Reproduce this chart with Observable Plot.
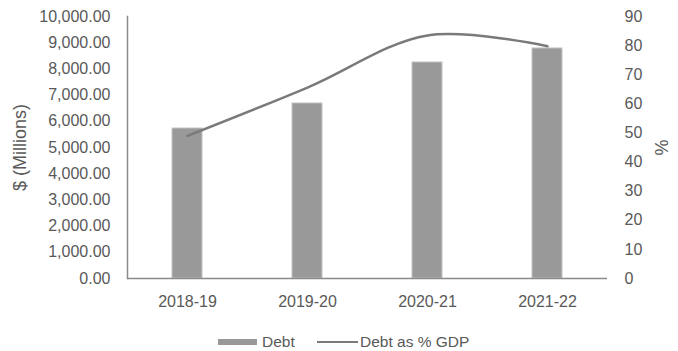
<!DOCTYPE html>
<html>
<head>
<meta charset="utf-8">
<script src="https://cdn.jsdelivr.net/npm/d3@7"></script>
<script src="https://cdn.jsdelivr.net/npm/@observablehq/plot@0.6"></script>
<style>
  body { margin: 0; background: #fff; font-family: "Liberation Sans", Arial, sans-serif; }
  #wrap { position: relative; width: 678px; height: 351px; }
  .legend { position: absolute; top: 328px; left: 0; width: 678px; height: 23px; color: #595959; font-size: 15.5px; }
  .legend span { position: absolute; }
</style>
</head>
<body>
<div id="wrap">
  <div id="chart"></div>
  <div class="legend">
    <span style="left:218px;top:11px;width:39px;height:6px;background:#999999"></span>
    <span style="left:262px;top:5px;">Debt</span>
    <span style="left:317px;top:13px;width:41px;height:2px;background:#7a7a7a"></span>
    <span style="left:360px;top:5px;">Debt as % GDP</span>
  </div>
</div>
<script>
const years = ["2018-19", "2019-20", "2020-21", "2021-22"];
const debt = [5725, 6680, 8245, 8780];
const debtPctGDP = [49, 65.6, 83.5, 79.8];
const leftTicks = [0, 1000, 2000, 3000, 4000, 5000, 6000, 7000, 8000, 9000, 10000];
const rightTicks = [0, 10, 20, 30, 40, 50, 60, 70, 80, 90];

const ratio = 10000 / 90;
const rows = years.map((y, i) => ({year: y, debt: debt[i], pct: debtPctGDP[i]}));

const chart = Plot.plot({
  width: 678,
  height: 318,
  marginTop: 16,
  marginBottom: 40,
  marginLeft: 127,
  marginRight: 71,
  style: {fontFamily: "'Liberation Sans', Arial, sans-serif", fontSize: "16px", color: "#595959"},
  x: {domain: years, padding: 0},
  y: {domain: [0, 10000]},
  marks: [
    Plot.barY(rows, {x: "year", y: "debt", fill: "#999999", stroke: "#c4c4c4", strokeWidth: 1, insetLeft: 45, insetRight: 45}),
    Plot.ruleY([0], {stroke: "#8a8a8a", strokeWidth: 1.5}),
    Plot.frame({anchor: "left", stroke: "#8a8a8a", strokeWidth: 1.5}),
    Plot.line(rows, {x: "year", y: d => d.pct * ratio, stroke: "#7a7a7a", strokeWidth: 2.5, curve: "catmull-rom"}),
    Plot.axisX({tickSize: 0, tickPadding: 17, label: null, fontSize: 16}),
    Plot.axisY(leftTicks, {anchor: "left", tickSize: 0, tickPadding: 17, tickFormat: d3.format(",.2f"), fontSize: 16, label: null}),
    Plot.axisY(rightTicks.map(v => v * ratio), {anchor: "right", tickSize: 0, tickPadding: 17, tickFormat: v => Math.round(v / ratio), fontSize: 16, label: null}),
    Plot.axisY([0], {anchor: "left", tickSize: 0, tickFormat: () => "", label: "$ (Millions)", labelAnchor: "center", labelArrow: "none", labelOffset: 114, fontSize: 18}),
    Plot.axisY([0], {anchor: "right", tickSize: 0, tickFormat: () => "", label: "%", labelAnchor: "center", labelArrow: "none", labelOffset: 60, fontSize: 18})
  ]
});
document.getElementById("chart").appendChild(chart);
</script>
</body>
</html>
